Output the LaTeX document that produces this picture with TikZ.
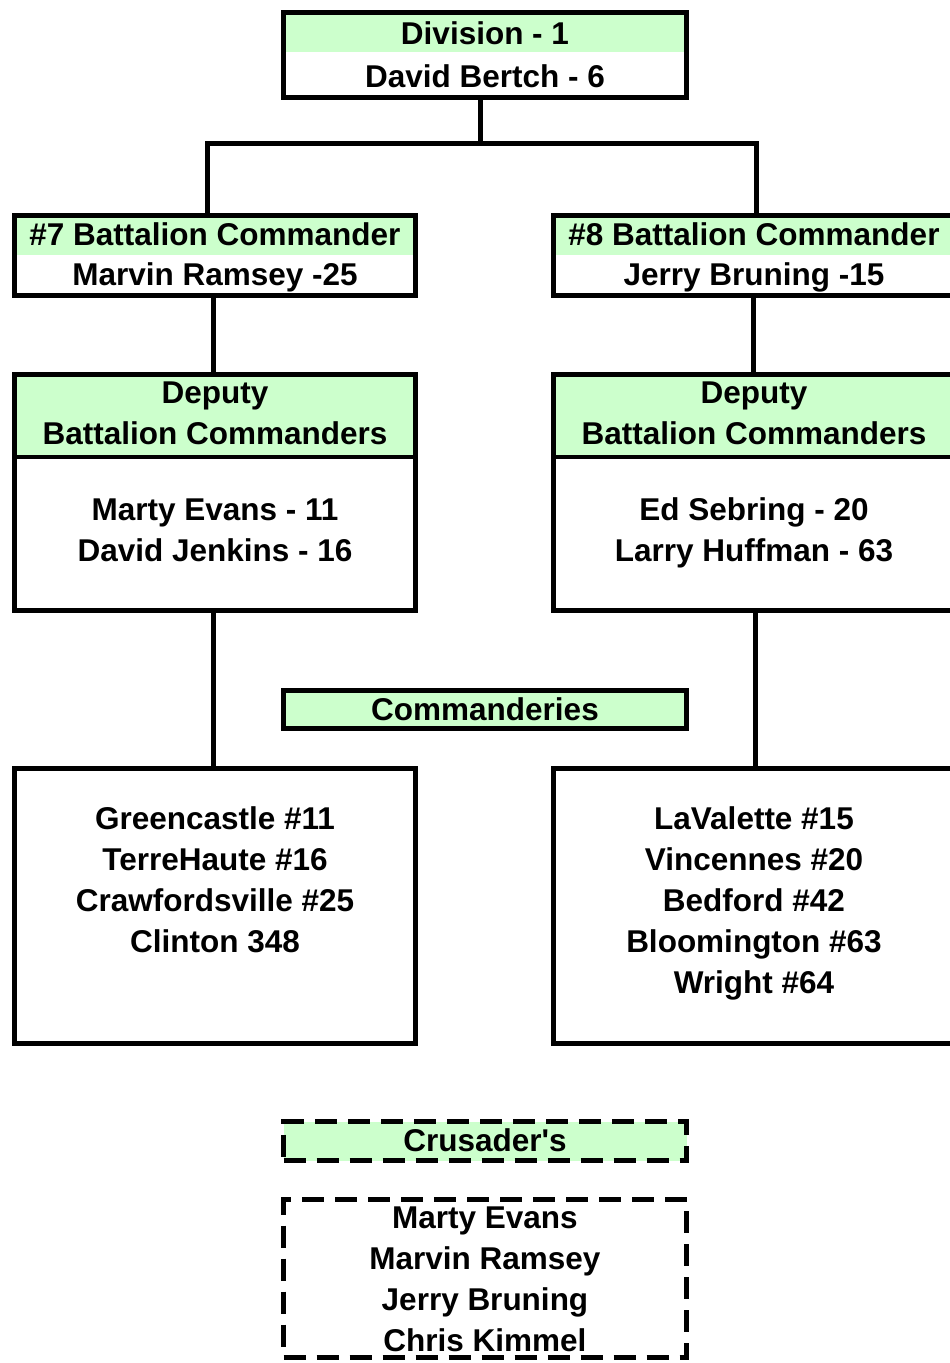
\documentclass[tikz,border=0pt]{standalone}
\usepackage{fontspec}
\setmainfont{Liberation Sans}[Ligatures=TeXOff]
\definecolor{lgreen}{HTML}{CCFFCC}
\begin{document}
\begin{tikzpicture}[x=1pt,y=-1pt,
  box/.style={draw=black, line width=5pt, inner sep=0pt, rectangle},
  dbox/.style={box, dash pattern=on 22pt off 11pt},
  conn/.style={draw=black, line width=5pt},
  txt/.style={font=\bfseries\fontsize{31.5}{41}\selectfont, align=center, inner sep=0pt, anchor=base}]
\useasboundingbox (0,0) rectangle (950,1363);
\clip (0,0) rectangle (950,1363);
\fill[white] (0,0) rectangle (950,1363);
% header fills
\fill[lgreen] (283.5,12.5) rectangle (686.5,52);
\fill[lgreen] (14.5,215.5) rectangle (415.5,255);
\fill[lgreen] (553.5,215.5) rectangle (954.5,255);
\fill[lgreen] (14.5,374.5) rectangle (415.5,457);
\fill[lgreen] (553.5,374.5) rectangle (954.5,457);
\fill[lgreen] (283.5,690.5) rectangle (686.5,728.5);
\fill[lgreen] (283.5,1121.5) rectangle (686.5,1160.5);
% boxes
\node[box, minimum width=403pt, minimum height=85pt] (div) at (485,55) {};
\node[box, minimum width=401pt, minimum height=80pt] (b7) at (215,255.5) {};
\node[box, minimum width=401pt, minimum height=80pt] (b8) at (754,255.5) {};
\node[box, minimum width=401pt, minimum height=236pt] (d7) at (215,492.5) {};
\node[box, minimum width=401pt, minimum height=236pt] (d8) at (754,492.5) {};
\node[box, minimum width=403pt, minimum height=38pt] (cmd) at (485,709.5) {};
\node[box, minimum width=401pt, minimum height=275pt] (c7) at (215,906) {};
\node[box, minimum width=401pt, minimum height=275pt] (c8) at (754,906) {};
\node[dbox, minimum width=403pt, minimum height=39pt] (cru) at (485,1141) {};
\node[dbox, minimum width=403pt, minimum height=158pt] (crn) at (485,1278.5) {};
% dividers in deputy boxes
\draw[conn, line width=4pt] (d7.west |- 0,457) -- (d7.east |- 0,457);
\draw[conn, line width=4pt] (d8.west |- 0,457) -- (d8.east |- 0,457);
% connectors
\coordinate (j) at (480,143);
\coordinate (jl) at (207,143);
\coordinate (jr) at (756,143);
\draw[conn] (j |- div.south) -- (j);
\draw[conn, line cap=rect] (jl |- b7.north) -- (jl) -- (jr) -- (jr |- b8.north);
\draw[conn] ([xshift=-2pt]b7.south) -- ([xshift=-2pt]d7.north);
\draw[conn] ([xshift=-1pt]b8.south) -- ([xshift=-1pt]d8.north);
\draw[conn] ([xshift=-2pt]d7.south) -- ([xshift=-2pt]c7.north);
\draw[conn] ([xshift=1pt]d8.south) -- ([xshift=1pt]c8.north);
% texts (anchor=base: baseline of the last line)
\node[txt] (tdiv1) at (485,44) {Division - 1};
\node[txt] (tdiv2) at (485,87) {David Bertch - 6};
\node[txt] (tb71) at (215,245) {\#7 Battalion Commander};
\node[txt] (tb72) at (215,285) {Marvin Ramsey -25};
\node[txt] (tb81) at (754,245) {\#8 Battalion Commander};
\node[txt] (tb82) at (754,285) {Jerry Bruning -15};
\node[txt] (td7h) at (215,444) {Deputy\\Battalion Commanders};
\node[txt] (td8h) at (754,444) {Deputy\\Battalion Commanders};
\node[txt] (td7n) at (215,561) {Marty Evans - 11\\David Jenkins - 16};
\node[txt] (td8n) at (754,561) {Ed Sebring - 20\\Larry Huffman - 63};
\node[txt] (tcmd) at (485,720) {Commanderies};
\node[txt] (tc7) at (215,952) {Greencastle \#11\\TerreHaute \#16\\Crawfordsville \#25\\Clinton 348};
\node[txt] (tc8) at (754,993) {LaValette \#15\\Vincennes \#20\\Bedford \#42\\Bloomington \#63\\Wright \#64};
\node[txt] (tcru) at (485,1151) {Crusader's};
\node[txt] (tcrn) at (485,1351) {Marty Evans\\Marvin Ramsey\\Jerry Bruning\\Chris Kimmel};
\end{tikzpicture}
\end{document}
